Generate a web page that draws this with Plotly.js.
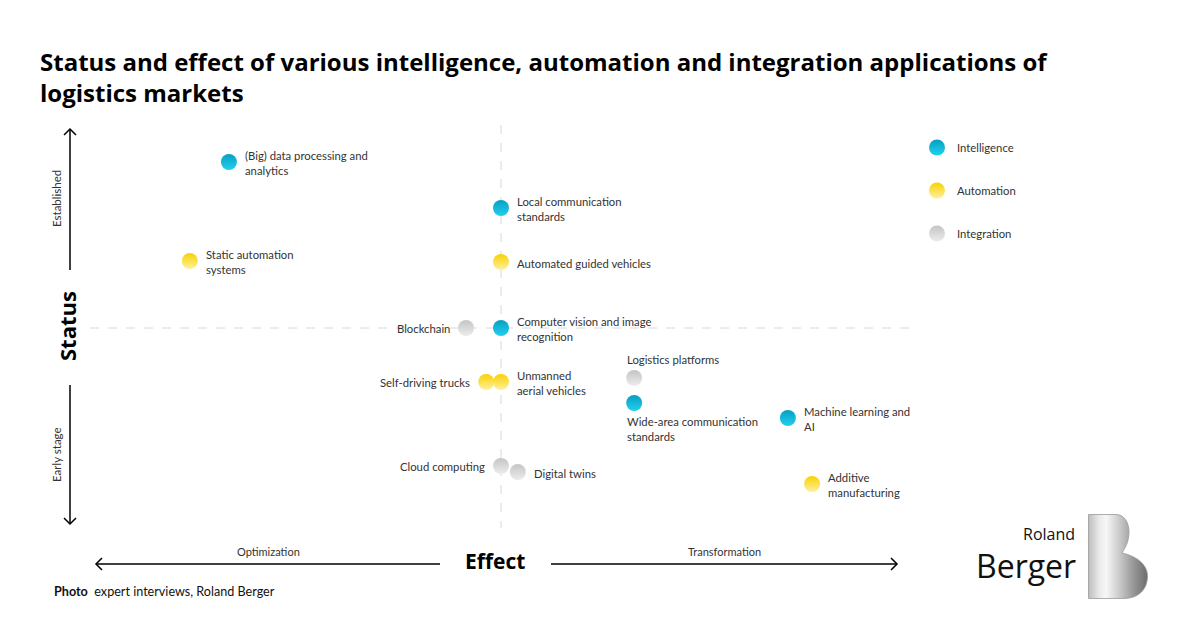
<!DOCTYPE html>
<html>
<head>
<meta charset="utf-8">
<script src="https://cdn.plot.ly/plotly-3.0.1.min.js"></script>
<style>html,body{margin:0;padding:0;background:#fff;}#chart{width:1200px;height:630px;}</style>
</head>
<body>
<div id="chart"></div>
<script>
// ---- data ----
const names = [
  "(Big) data processing and<br>analytics",
  "Local communication<br>standards",
  "Static automation<br>systems",
  "Automated guided vehicles",
  "Blockchain",
  "Computer vision and image<br>recognition",
  "Self-driving trucks",
  "Unmanned<br>aerial vehicles",
  "Logistics platforms",
  "Wide-area communication<br>standards",
  "Machine learning and<br>AI",
  "Cloud computing",
  "Digital twins",
  "Additive<br>manufacturing"
];
const category = ["Intelligence","Intelligence","Automation","Automation","Integration","Intelligence",
  "Automation","Automation","Integration","Intelligence","Intelligence","Integration","Integration","Automation"];
const effect = [-6.62, 0, -7.57, 0, -0.85, 0, -0.36, 0, 3.24, 3.24, 6.98, 0, 0.41, 7.57];
const status = [8.3, 6.0, 3.35, 3.3, 0, 0, -2.7, -2.7, -2.5, -3.75, -4.5, -6.9, -7.2, -7.8];
const categories = ["Intelligence","Automation","Integration"];

// ---- styles ----
const labelSide = ["right","right","right","right","left","right","left","right","top","bottom","right","left","right","right"];
const catColor = {Intelligence:["#079fc0","#22d0ef"], Automation:["#f7d200","#fff0a0"], Integration:["#c4c4c4","#ececec"]};
const W = 1200, H = 630, L = 90, R = 912, T = 128, B = 528;
const px = x => (x - L) / (R - L);
const py = y => (B - y) / (B - T);
const txt = "#333333";
const LABFONT = "Lato, 'Open Sans', sans-serif";

const traces = categories.map(c => {
  const idx = category.map((v,i)=>v===c?i:-1).filter(i=>i>=0);
  return {
    type: "scatter", mode: "markers", name: c, legendgroup: c,
    x: idx.map(i=>effect[i]), y: idx.map(i=>status[i]),
    hoverinfo: "skip",
    marker: {size: 16, color: catColor[c][0], line:{width:0},
      gradient:{type:"vertical", color: catColor[c][1]}}
  };
});

const annotations = names.map((n,i) => {
  const s = labelSide[i];
  const a = {x: effect[i], y: status[i], xref:"x", yref:"y", text: n, showarrow:false,
    align:"left", font:{family:LABFONT, size:11.3, color:txt}};
  if (s==="right") Object.assign(a,{xanchor:"left", yanchor:"middle", xshift:14, yshift:-1});
  if (s==="left") Object.assign(a,{xanchor:"right", yanchor:"middle", xshift:-14, align:"right"});
  if (s==="top") Object.assign(a,{xanchor:"left", yanchor:"bottom", xshift:-9, yshift:10});
  if (s==="bottom") Object.assign(a,{xanchor:"left", yanchor:"top", xshift:-9, yshift:-10});
  return a;
});

function pAnn(x, y, text, o) {
  return Object.assign({xref:"paper", yref:"paper", x: px(x), y: py(y), text, showarrow:false,
    xanchor:"center", yanchor:"middle", font:{family:LABFONT, size:11, color:txt}}, o||{});
}
annotations.push(
  pAnn(56, 199, "Established", {textangle:-90, font:{family:LABFONT, size:11.5, color:txt}}),
  pAnn(56, 455, "Early stage", {textangle:-90, font:{family:LABFONT, size:11.5, color:txt}}),
  pAnn(67, 326, "<b>Status</b>", {textangle:-90, font:{family:"'Open Sans', sans-serif", size:22, color:"#000"}}),
  pAnn(268, 551, "Optimization"),
  pAnn(724, 551, "Transformation"),
  pAnn(495, 561, "<b>Effect</b>", {font:{family:"'Open Sans', sans-serif", size:21, color:"#000"}}),
  pAnn(52, 591, "<b>Photo</b>  expert interviews, Roland Berger", {xanchor:"left", font:{family:LABFONT, size:12.6, color:"#111"}}),
  pAnn(1077, 534, "Roland", {xanchor:"right", font:{family:"'Open Sans', sans-serif", size:16, color:"#111"}}),
  pAnn(1078, 565, "Berger", {xanchor:"right", font:{family:"'Open Sans', sans-serif", size:32, color:"#111"}})
);

function pathP(pts) { return "M" + pts.map(p => px(p[0]) + "," + py(p[1])).join(" L"); }
const arrowLine = {color:"#000", width:1.5};
const shapes = [
  {type:"line", xref:"x", yref:"paper", x0:0, x1:0, y0:py(125), y1:0, line:{color:"#d8d8d8", width:1, dash:"dash"}, layer:"below"},
  {type:"line", xref:"x", yref:"y", x0:-10, x1:10, y0:0, y1:0, line:{color:"#d8d8d8", width:1, dash:"dash"}, layer:"below"},
  {type:"path", xref:"paper", yref:"paper", path: pathP([[70,270],[70,129]]), line:arrowLine},
  {type:"path", xref:"paper", yref:"paper", path: pathP([[64,135],[70,129],[76,135]]), line:arrowLine},
  {type:"path", xref:"paper", yref:"paper", path: pathP([[70,385],[70,524]]), line:arrowLine},
  {type:"path", xref:"paper", yref:"paper", path: pathP([[64,518],[70,524],[76,518]]), line:arrowLine},
  {type:"path", xref:"paper", yref:"paper", path: pathP([[440,564],[96,564]]), line:arrowLine},
  {type:"path", xref:"paper", yref:"paper", path: pathP([[102,558],[96,564],[102,570]]), line:arrowLine},
  {type:"path", xref:"paper", yref:"paper", path: pathP([[551,564],[897,564]]), line:arrowLine},
  {type:"path", xref:"paper", yref:"paper", path: pathP([[891,558],[897,564],[891,570]]), line:arrowLine}
];

const svgB = '<svg xmlns="http://www.w3.org/2000/svg" viewBox="0 0 60 85" preserveAspectRatio="none">' +
  '<defs><linearGradient id="g" x1="0" y1="0" x2="1" y2="0">' +
  '<stop offset="0" stop-color="#bdbdbd"/><stop offset="0.18" stop-color="#e9e9e9"/>' +
  '<stop offset="0.3" stop-color="#f7f7f7"/><stop offset="0.5" stop-color="#cfcfcf"/>' +
  '<stop offset="0.75" stop-color="#9a9a9a"/><stop offset="1" stop-color="#6c6c6c"/></linearGradient></defs>' +
  '<path d="M0.5 0.5 H28 C36 0.5 41 8 41 18 C41 28 37 34 34 39 C48 42 59.5 50 59.5 62 C59.5 76 50 84.5 36 84.5 H0.5 Z" fill="url(#g)" stroke="#9a9a9a" stroke-width="0.8"/></svg>';

const layout = {
  width: W, height: H,
  margin: {l: L, r: W - R, t: T, b: H - B, pad: 0},
  paper_bgcolor: "#fff", plot_bgcolor: "#fff",
  title: {text: "<b>Status and effect of various intelligence, automation and integration applications of<br>logistics markets</b>",
    x: 40 / W, xanchor: "left", xref: "container", y: 1 - 71 / H, yanchor: "top", yref: "container",
    font: {family: "'Open Sans', sans-serif", size: 24, color: "#000"}},
  xaxis: {range: [-10, 10], showgrid:false, zeroline:false, showticklabels:false, showline:false, ticks:"", fixedrange:true},
  yaxis: {range: [-10, 10], showgrid:false, zeroline:false, showticklabels:false, showline:false, ticks:"", fixedrange:true},
  showlegend: true,
  legend: {x: px(917), y: py(133), xanchor:"left", yanchor:"top", tracegroupgap: 24, itemwidth: 30,
    font:{family:LABFONT, size:11.3, color:txt}, bgcolor:"rgba(0,0,0,0)", itemclick:false, itemdoubleclick:false},
  annotations, shapes,
  images: [{source: "data:image/svg+xml;charset=utf-8," + encodeURIComponent(svgB), xref:"paper", yref:"paper",
    x: px(1088), y: py(514), sizex: 60/(R-L), sizey: 85/(B-T), xanchor:"left", yanchor:"top", sizing:"stretch", layer:"above"}]
};

Plotly.newPlot("chart", traces, layout, {displayModeBar:false, staticPlot:true});
</script>
</body>
</html>
